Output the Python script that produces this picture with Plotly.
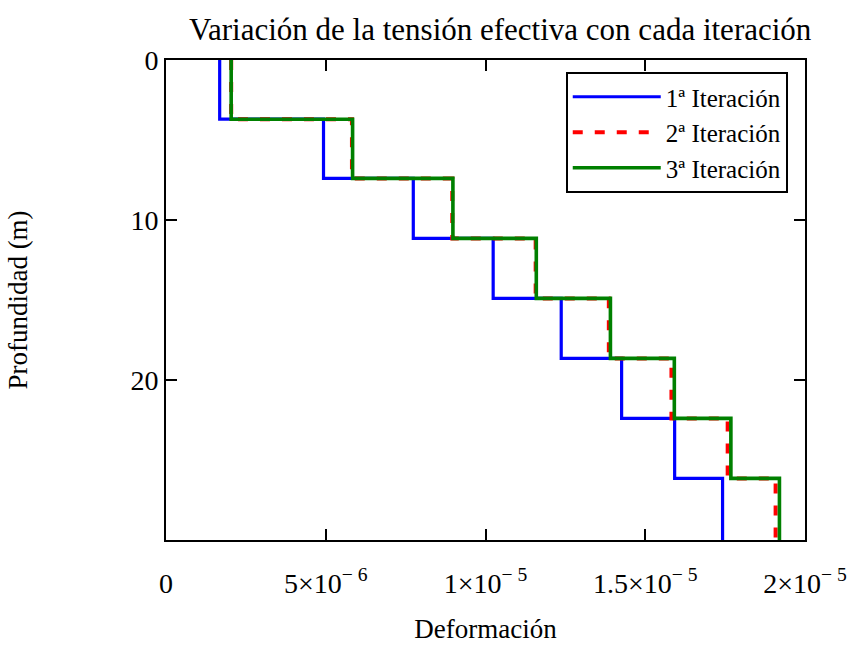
import plotly.graph_objects as go

# Layer boundaries (depth, m) and strain per layer for each iteration
depth_bounds = [0, 3.7, 7.4, 11.15, 14.9, 18.65, 22.4, 26.15, 30]
iter1 = [1.68e-6, 4.93e-6, 7.74e-6, 10.24e-6, 12.37e-6, 14.26e-6, 15.92e-6, 17.42e-6]
iter2 = [2.04e-6, 5.82e-6, 8.96e-6, 11.57e-6, 13.86e-6, 15.82e-6, 17.58e-6, 19.08e-6]
iter3 = [2.04e-6, 5.84e-6, 8.98e-6, 11.59e-6, 13.91e-6, 15.91e-6, 17.68e-6, 19.20e-6]

x_tickvals = [0, 5e-6, 1e-5, 1.5e-5, 2e-5]
x_ticktext = [
    "0",
    "5×10<sup>− 6</sup>",
    "1×10<sup>− 5</sup>",
    "1.5×10<sup>− 5</sup>",
    "2×10<sup>− 5</sup>",
]
y_tickvals = [0, 10, 20]
y_ticktext = ["0", "10", "20"]

SERIF = "Liberation Serif"


def step_profile(values):
    # each layer value spans from its top boundary to its bottom one
    xs = list(values) + [values[-1]]
    ys = list(depth_bounds)
    return xs, ys


fig = go.Figure()

series = [
    ("1ª Iteración", iter1, dict(color="#0000ff", width=3.2)),
    ("2ª Iteración", iter2, dict(color="#ff0000", width=4, dash="10px,12px")),
    ("3ª Iteración", iter3, dict(color="#008000", width=3.6)),
]
for name, vals, line in series:
    xs, ys = step_profile(vals)
    fig.add_trace(go.Scatter(
        x=xs, y=ys, mode="lines", name=name,
        line=dict(shape="vh", **line),
    ))

tick_font = dict(family=SERIF, size=28, color="black")
axis_common = dict(
    showline=True, linecolor="black", linewidth=2, mirror="ticks",
    ticks="inside", ticklen=11, tickwidth=2, tickcolor="black",
    showgrid=False, zeroline=False, tickfont=tick_font,
)

fig.update_xaxes(
    range=[0, 2e-5], tickmode="array", tickvals=x_tickvals, ticktext=x_ticktext,
    ticklabelstandoff=17,
    title=dict(text="Deformación", standoff=22,
               font=dict(family=SERIF, size=27, color="black")),
    **axis_common,
)
fig.update_yaxes(
    range=[30, 0], tickmode="array", tickvals=y_tickvals, ticktext=y_ticktext,
    title=dict(text="Profundidad (m)", standoff=95,
               font=dict(family=SERIF, size=27, color="black")),
    **axis_common,
)

fig.update_layout(
    template="none",
    font=dict(family=SERIF, size=27, color="black"),
    width=858, height=653,
    margin=dict(l=166, r=53, t=60, b=113),
    paper_bgcolor="white", plot_bgcolor="white",
    title=dict(
        text="Variación de la tensión efectiva con cada iteración",
        font=dict(family=SERIF, size=31, color="black"),
        x=0.583, xanchor="center", y=1 - 29 / 653, yanchor="middle",
    ),
    legend=dict(
        x=0.973, xanchor="right", y=0.975, yanchor="top",
        bgcolor="white", bordercolor="black", borderwidth=2,
        font=dict(family=SERIF, size=25, color="black"),
        itemwidth=88, tracegroupgap=0,
    ),
    showlegend=True,
)

fig.write_html("out.html")
